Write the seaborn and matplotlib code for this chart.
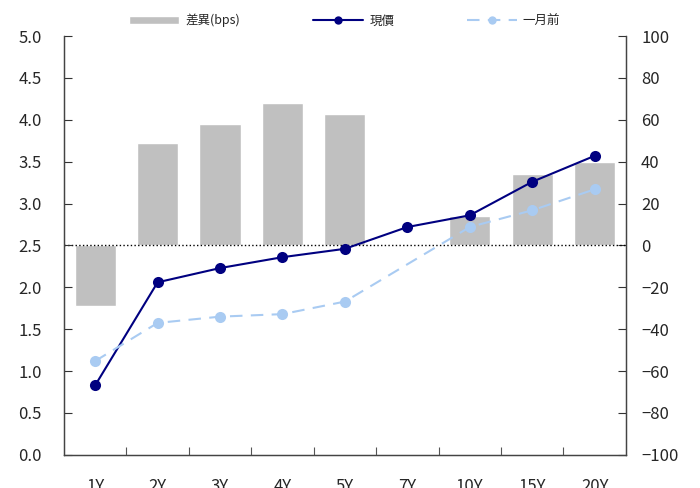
import matplotlib
matplotlib.use("Agg")
import matplotlib.pyplot as plt
import numpy as np
import pandas as pd
import seaborn as sns

tenors = ["1Y", "2Y", "3Y", "4Y", "5Y", "7Y", "10Y", "15Y", "20Y"]
current = [0.83, 2.06, 2.23, 2.36, 2.46, 2.72, 2.86, 3.26, 3.57]
month_ago = [1.12, 1.575, 1.65, 1.68, 1.83, np.nan, 2.72, 2.92, 3.17]
diff_bps = [-29, 49, 58, 68, 63, np.nan, 14, 34, 40]

sns.set_theme(style="white")
plt.rcParams["font.family"] = ["Noto Sans CJK TC", "DejaVu Sans"]

df = pd.DataFrame({"tenor": tenors, "pos": np.arange(len(tenors)),
                   "current": current, "month_ago": month_ago, "diff": diff_bps})

fig, ax = plt.subplots(figsize=(7, 4.88), dpi=100)
fig.subplots_adjust(left=0.0914, right=0.894, top=0.926, bottom=0.068)
ax2 = ax.twinx()

# bars on right axis, drawn behind the lines
sns.barplot(data=df, x="pos", y="diff", ax=ax2, color="#C0C0C0", saturation=1,
            width=0.66, native_scale=True, label="差異(bps)")
ax2.axhline(0, color="black", ls=":", lw=1, zorder=1)

ax.set_zorder(ax2.get_zorder() + 1)
ax.patch.set_visible(False)

sns.lineplot(data=df, x="pos", y="current", ax=ax, color="#000080", lw=1.5,
             marker="o", markersize=8, markeredgewidth=0, label="現價")
ma = df.dropna(subset=["month_ago"])
sns.lineplot(data=ma, x="pos", y="month_ago", ax=ax, color="#A9CBF2", lw=1.5,
             ls=(0, (6, 4)), marker="o", markersize=8, markeredgewidth=0,
             label="一月前")

ax.set_xlim(-0.5, len(tenors) - 0.5)
ax.set_ylim(0, 5)
ax.set_yticks(np.arange(0, 5.01, 0.5))
ax.set_yticklabels([f"{v:.1f}" for v in np.arange(0, 5.01, 0.5)])
ax2.set_ylim(-100, 100)
ax2.set_yticks(np.arange(-100, 101, 20))
ax.set_xticks(df["pos"])
ax.set_xticklabels(tenors)
ax.set_xticks(np.arange(0.5, len(tenors) - 1, 1), minor=True)
ax.set_xlabel("")
ax.set_ylabel("")
ax2.set_ylabel("")
ax2.set_xlabel("")

ax.tick_params(axis="x", which="major", length=0, pad=17, labelsize=12)
ax.tick_params(axis="x", which="minor", direction="in", length=6, width=0.8,
               color="#555555", bottom=True)
ax.tick_params(axis="y", direction="in", length=6, width=0.8, color="#333333",
               pad=16, labelsize=12, left=True)
ax2.tick_params(axis="y", direction="in", length=6, width=0.8, color="#333333",
                pad=11, labelsize=12, right=True)

for a in (ax, ax2):
    a.spines["top"].set_visible(False)
    for s in ("left", "right", "bottom"):
        a.spines[s].set_color("#444444")
        a.spines[s].set_linewidth(0.9)

h1, l1 = ax2.get_legend_handles_labels()
h2, l2 = ax.get_legend_handles_labels()
if ax2.get_legend():
    ax2.get_legend().remove()
ax.legend(h1 + h2, l1 + l2, loc="lower center", bbox_to_anchor=(0.5, 1.0),
          ncol=3, frameon=False, fontsize=9, handlelength=4,
          columnspacing=5.8, handletextpad=0.5, borderaxespad=0.3,
          markerscale=0.75)

fig.savefig("out.png", dpi=100)
